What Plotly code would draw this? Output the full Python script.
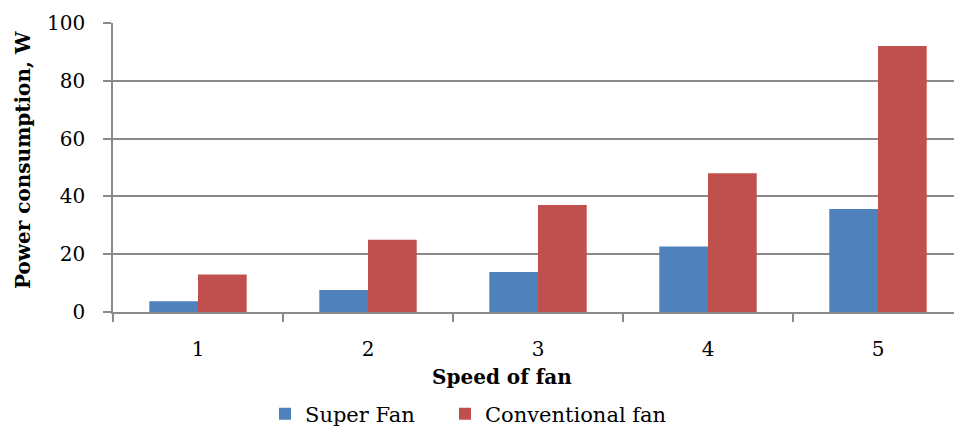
import plotly.graph_objects as go

# Fan speed settings and measured power draw (W)
speeds = ["1", "2", "3", "4", "5"]
super_fan = [3.7, 7.6, 13.8, 22.7, 35.6]
conventional_fan = [13, 25, 37, 48, 92]
y_ticks = [0, 20, 40, 60, 80, 100]

W, H = 954, 427
L, R, T, B = 113, 0, 23, 115
pw, ph = W - L - R, H - T - B

def px_x(px):
    return (px - L) / pw

def px_y(py):
    return (T + ph - py) / ph

FONT = "DejaVu Serif"
GRID = "#8a8a8a"
INK = "#000000"

fig = go.Figure()
fig.add_trace(go.Bar(x=speeds, y=super_fan, name="Super Fan", legend="legend",
                     marker=dict(color="#4F81BD", line=dict(width=0))))
fig.add_trace(go.Bar(x=speeds, y=conventional_fan, name="Conventional fan",
                     legend="legend2",
                     marker=dict(color="#C0504D", line=dict(width=0))))

legend_style = dict(orientation="h", yanchor="middle", xanchor="left",
                    font=dict(family=FONT, size=21, color=INK),
                    bgcolor="rgba(0,0,0,0)", borderwidth=0)

fig.update_layout(
    width=W, height=H,
    margin=dict(l=L, r=R, t=T, b=B, pad=0, autoexpand=False),
    paper_bgcolor="white", plot_bgcolor="white",
    barmode="group", bargap=0.427, bargroupgap=0,
    font=dict(family=FONT, size=20, color=INK),
    showlegend=True,
    legend=dict(x=px_x(265), y=px_y(414), **legend_style),
    legend2=dict(x=px_x(445), y=px_y(414), **legend_style),
    xaxis=dict(type="category", range=[-0.5, 4.5 - 9 / 170],
               automargin=False,
               showline=True, linecolor=GRID, linewidth=1.5,
               ticks="outside", tickson="boundaries", ticklen=8,
               tickcolor=GRID, tickwidth=1.5,
               tickfont=dict(family=FONT, size=20, color=INK),
               ticklabelstandoff=18,
               showgrid=False, zeroline=False),
    yaxis=dict(range=[0, 100], tickvals=y_ticks, automargin=False,
               showline=True, linecolor=GRID, linewidth=1.5,
               ticks="outside", ticklen=8, tickcolor=GRID, tickwidth=1.5,
               tickfont=dict(family=FONT, size=20, color=INK),
               ticklabelstandoff=14,
               showgrid=True, gridcolor=GRID, gridwidth=1.5,
               zeroline=False),
    annotations=[
        dict(text="<b>Speed of fan</b>", xref="paper", yref="paper",
             x=px_x(502), y=px_y(377), xanchor="center", yanchor="middle",
             showarrow=False, font=dict(family=FONT, size=20, color=INK)),
        dict(text="<b>Power consumption, W</b>", xref="paper", yref="paper",
             x=px_x(23), y=px_y(160), xanchor="center", yanchor="middle",
             textangle=-90, showarrow=False,
             font=dict(family=FONT, size=20, color=INK)),
    ],
)

fig.write_html("out.html")
